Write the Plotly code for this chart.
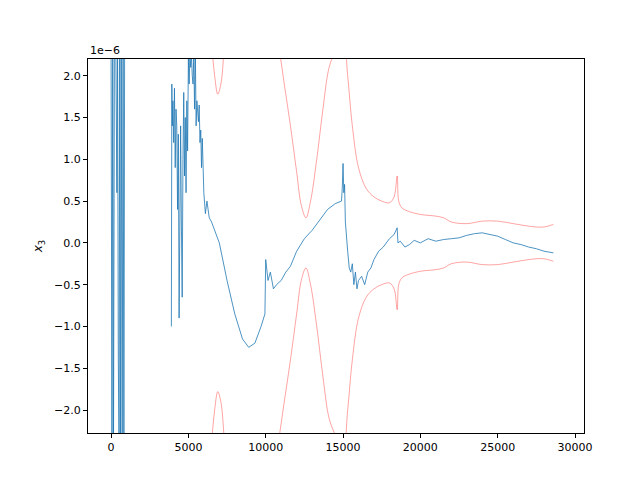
import plotly.graph_objects as go

# blue trace (x3, units of 1e-6); None = gap
x_blue = [0, 60, 110, 160, 220, 300, 380, 420, 470, 520, 560, 610, 660, 720, 780, 830, 880, 900,
          3900, 3930, 3960, 4000, 4050, 4100, 4150, 4200, 4250, 4300, 4350, 4400, 4450, 4500,
          4550, 4600, 4650, 4700, 4750, 4800, 4850, 4900, 4950, 5000, 5050, 5100, 5150, 5200,
          5250, 5300, 5350, 5400, 5450, 5500, 5550, 5600, 5650, 5700, 5750, 5800, 5850, 5900,
          6000, 6100, 6200, 6350, 6500, 7000, 7500, 8000, 8500, 8900, 9300, 9700, 9950,
          10000, 10050, 10150, 10300, 10500, 10700, 11000, 11300, 11600, 12000, 12500, 13000,
          13500, 14000, 14500, 14900, 14950, 15000, 15050, 15100, 15150, 15200, 15300, 15400,
          15500, 15600, 15700, 15800, 15900, 16000, 16200, 16400, 16600, 16800, 17000, 17300,
          17600, 18000, 18300, 18500, 18550, 18700, 19000, 19300, 19600, 20000, 20500, 21000,
          21500, 22000, 22500, 23000, 23500, 24000, 24500, 25000, 25500, 26000, 26500, 27000,
          27500, 28000, 28600]
y_blue = [2.5, -2.5, 2.5, -2.5, 2.5, 2.5, 0.6, 2.5, -1.4, -2.5, 2.5, -2.5, 2.5, -2.5, 2.5, -2.5, 2.5, None,
          -1.0, 1.9, 1.4, 1.7, 1.2, 1.85, 0.9, 1.6, 1.4, 0.4, 1.3, -0.9, 0.8, 1.4,
          0.2, -0.65, 1.0, 1.8, 0.8, 1.5, 0.6, 1.7, 1.1, 2.2, 1.9, 2.3, 2.1, 2.25,
          2.0, 1.9, 2.25, 1.6, 2.3, 1.4, 1.7, 1.5, 1.45, 1.65, 1.2, 1.35, 0.9, 1.25,
          0.6, 0.35, 0.5, 0.3, 0.25, 0.0, -0.45, -0.85, -1.15, -1.25, -1.2, -1.0, -0.85,
          -0.2, -0.3, -0.45, -0.35, -0.55, -0.5, -0.45, -0.35, -0.28, -0.1, 0.05, 0.15,
          0.28, 0.4, 0.47, 0.5, 0.65, 0.95, 0.6, 0.7, 0.25, 0.1, -0.1, -0.3,
          -0.35, -0.25, -0.5, -0.35, -0.55, -0.45, -0.4, -0.5, -0.35, -0.3, -0.2, -0.1,
          -0.05, 0.05, 0.1, 0.18, 0.0, 0.02, -0.05, -0.02, 0.03, 0.0, 0.05, 0.02,
          0.04, 0.05, 0.06, 0.09, 0.11, 0.12, 0.1, 0.08, 0.04, 0.0, -0.02, -0.05,
          -0.07, -0.1, -0.12]

# red envelope (upper; lower is mirrored)
x_red = [6300, 6500, 6700, 6900, 7100, 7300, 7600, 8500, 10000, 10800, 11200, 11600, 12000,
         12300, 12600, 12900, 13300, 13700, 14100, 14500, 15000, 15300, 15600, 16000, 16500,
         17000, 17500, 18000, 18300, 18500, 18600, 18800, 19200, 20000, 21000, 21500, 22000,
         23000, 24000, 25000, 26000, 27000, 27500, 28000, 28600]
y_red = [3.0, 2.4, 2.0, 1.78, 1.9, 2.3, 3.2, 4.0, 3.2, 2.4, 1.9, 1.4, 0.85,
         0.45, 0.3, 0.5, 1.0, 1.6, 2.1, 2.3, 2.5, 2.0, 1.4, 0.9, 0.65,
         0.55, 0.5, 0.48, 0.55, 0.8, 0.5, 0.42, 0.38, 0.34, 0.32, 0.3, 0.25,
         0.23, 0.26, 0.26, 0.23, 0.2, 0.19, 0.19, 0.22]
y_red_low = [-v for v in y_red]

fig = go.Figure()
fig.add_trace(go.Scatter(x=x_red, y=y_red, mode='lines', line=dict(color='rgba(255,0,0,0.45)', width=0.8, shape='spline')))
fig.add_trace(go.Scatter(x=x_red, y=y_red_low, mode='lines', line=dict(color='rgba(255,0,0,0.45)', width=0.8, shape='spline')))
fig.add_trace(go.Scatter(x=x_blue, y=y_blue, mode='lines', line=dict(color='#1f77b4', width=0.8)))

axis = dict(showgrid=False, zeroline=False, showline=True, linecolor='black', mirror=True,
            ticks='outside', tickcolor='black', ticklen=4,
            tickfont=dict(family='DejaVu Sans', size=11, color='black'))
fig.update_layout(
    width=640, height=480, showlegend=False,
    paper_bgcolor='white', plot_bgcolor='white',
    margin=dict(l=80, r=64, t=51, b=55),
    xaxis=dict(axis, range=[-1490, 30580], tickvals=[0, 5000, 10000, 15000, 20000, 25000, 30000],
               ticktext=['0', '5000', '10000', '15000', '20000', '25000', '30000']),
    yaxis=dict(axis, range=[-2.275, 2.2], tickvals=[-2, -1.5, -1, -0.5, 0, 0.5, 1, 1.5, 2],
               ticktext=['−2.0', '−1.5', '−1.0', '−0.5', '0.0', '0.5', '1.0', '1.5', '2.0'],
               title=dict(text='<i>x</i><sub>3</sub>', font=dict(family='DejaVu Sans', size=12, color='black'), standoff=8)),
    annotations=[dict(text='1e−6', x=0, y=1, xref='paper', yref='paper', xanchor='left', yanchor='bottom',
                      showarrow=False, font=dict(family='DejaVu Sans', size=11, color='black'))],
)
fig.write_html("out.html")
